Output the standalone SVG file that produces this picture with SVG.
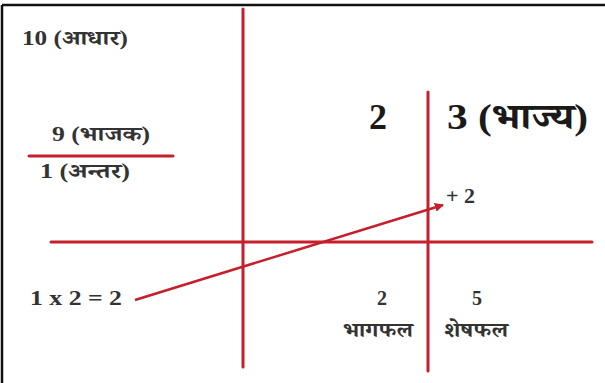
<svg xmlns="http://www.w3.org/2000/svg" width="605" height="383" viewBox="0 0 605 383">
<style>
.t{font-family:"Liberation Serif","Noto Serif Devanagari","Noto Sans Devanagari",serif;fill:#333;font-weight:bold}
.s{font-size:20px}
.b{font-size:36px;fill:#1a1a1a}
.r{stroke:#c51f2c;stroke-width:3;fill:none;stroke-linecap:round}
</style>
<defs>
<marker id="ah" viewBox="0 0 10 10" refX="9" refY="5" markerWidth="9" markerHeight="9" orient="auto" markerUnits="userSpaceOnUse">
<path d="M0,0 L10,5 L0,10 z" fill="#c51f2c"/>
</marker>
</defs>
<rect x="0" y="0" width="605" height="383" fill="#fff"/>
<line x1="2" y1="5" x2="605" y2="5" stroke="#111" stroke-width="2.5"/>
<line x1="2" y1="5" x2="2" y2="383" stroke="#111" stroke-width="2.5"/>
<g id="connectors">
<line class="r" x1="243" y1="9" x2="243" y2="367"/>
<line class="r" x1="428" y1="92" x2="428" y2="371"/>
<line class="r" x1="51" y1="242" x2="592" y2="242"/>
<line class="r" x1="29" y1="156" x2="173" y2="156" stroke-width="2.5"/>
<line x1="135" y1="300" x2="443" y2="205" stroke="#c51f2c" stroke-width="2.5" marker-end="url(#ah)"/>
</g>
<g id="aadhar"><text class="t s" x="22" y="45" textLength="106" lengthAdjust="spacingAndGlyphs">10 (आधार)</text></g>
<g id="bhajak"><text class="t s" x="52" y="141" textLength="98" lengthAdjust="spacingAndGlyphs">9 (भाजक)</text></g>
<g id="antar"><text class="t s" x="40" y="178" textLength="90" lengthAdjust="spacingAndGlyphs">1 (अन्तर)</text></g>
<g id="divisor"><text class="t b" x="369" y="129">2</text></g>
<g id="bhajya"><text class="t b" x="447" y="129" textLength="141" lengthAdjust="spacingAndGlyphs">3 (भाज्य)</text></g>
<g id="plus2"><text class="t s" x="446" y="203" font-size="17" textLength="29" lengthAdjust="spacingAndGlyphs">+ 2</text></g>
<g id="product"><text class="t s" x="30" y="305" textLength="92" lengthAdjust="spacingAndGlyphs">1 x 2 = 2</text></g>
<g id="quotient"><text class="t s" x="377" y="305">2</text><text class="t s" x="343" y="337" textLength="70" lengthAdjust="spacingAndGlyphs">भागफल</text></g>
<g id="remainder"><text class="t s" x="472" y="305">5</text><text class="t s" x="444" y="337" textLength="64" lengthAdjust="spacingAndGlyphs">शेषफल</text></g>
</svg>
